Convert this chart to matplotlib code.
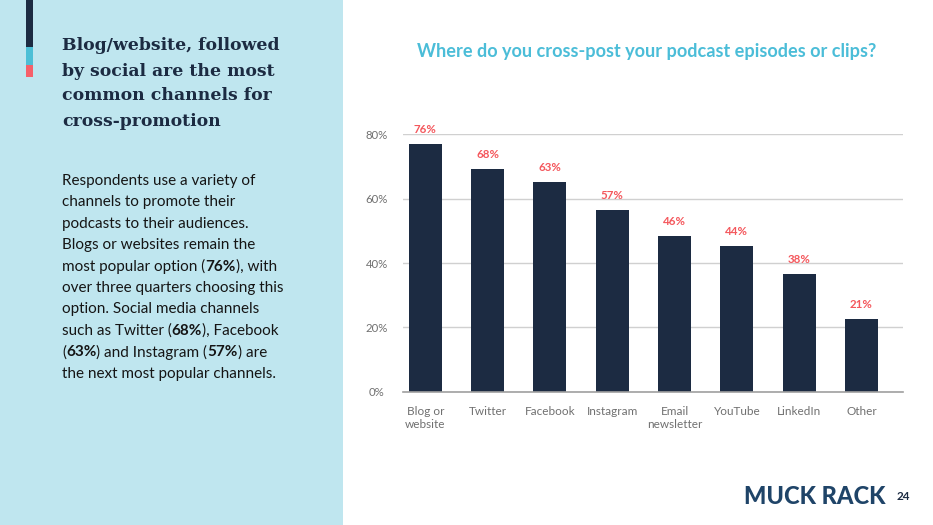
import matplotlib
matplotlib.use("Agg")
import matplotlib.pyplot as plt
from matplotlib.patches import Rectangle

# ---- data ----
categories = ["Blog or\nwebsite", "Twitter", "Facebook", "Instagram",
              "Email\nnewsletter", "YouTube", "LinkedIn", "Other"]
bar_heights = [77.0, 69.2, 65.2, 56.5, 48.4, 45.3, 36.6, 22.6]
value_labels = ["76%", "68%", "63%", "57%", "46%", "44%", "38%", "21%"]
y_ticks = [0, 20, 40, 60, 80]
y_tick_labels = ["0%", "20%", "40%", "60%", "80%"]

title_left = "Blog/website, followed\nby social are the most\ncommon channels for\ncross-promotion"
body_lines = [
    [("Respondents use a variety of", False)],
    [("channels to promote their", False)],
    [("podcasts to their audiences.", False)],
    [("Blogs or websites remain the", False)],
    [("most popular option (", False), ("76%", True), ("), with", False)],
    [("over three quarters choosing this", False)],
    [("option. Social media channels", False)],
    [("such as Twitter (", False), ("68%", True), ("), Facebook", False)],
    [("(", False), ("63%", True), (") and Instagram (", False), ("57%", True), (") are", False)],
    [("the next most popular channels.", False)],
]
chart_title = "Where do you cross-post your podcast episodes or clips?"

NAVY = "#1c2b42"
TEAL = "#4bbdd8"
CORAL = "#f4575c"
PANEL = "#bfe6ef"
GRAY = "#707070"

W, H = 933, 525
fig = plt.figure(figsize=(W / 100, H / 100), dpi=100)
fig.patch.set_facecolor("white")

def fx(px):
    return px / W

def fy(py):
    return 1 - py / H

# left panel
fig.patches.append(Rectangle((0, 0), fx(343), 1, transform=fig.transFigure,
                             facecolor=PANEL, edgecolor="none", zorder=0))
# accent stripes
fig.patches.append(Rectangle((fx(26), fy(47)), fx(7), 47 / H, transform=fig.transFigure,
                             facecolor=NAVY, edgecolor="none", zorder=1))
fig.patches.append(Rectangle((fx(26), fy(65)), fx(7), 18 / H, transform=fig.transFigure,
                             facecolor="#4cbfd6", edgecolor="none", zorder=1))
fig.patches.append(Rectangle((fx(26), fy(77)), fx(7), 12 / H, transform=fig.transFigure,
                             facecolor="#f6606a", edgecolor="none", zorder=1))

for i, line in enumerate(title_left.split("\n")):
    fig.text(fx(62), fy(46 + i * 25), line, ha="left", va="center", fontsize=12.4,
             family="DejaVu Serif", weight="bold", color=NAVY)

# body text with mixed bold
renderer = fig.canvas.get_renderer()
y0 = 181
for i, segs in enumerate(body_lines):
    x = fx(62)
    yy = fy(y0 + i * 21.4)
    for txt, bold in segs:
        t = fig.text(x, yy, txt, ha="left", va="center", fontsize=11.0,
                     family="Lato", weight="bold" if bold else "normal", color="#151515")
        bb = t.get_window_extent(renderer=renderer)
        x = bb.x1 / (W)

# chart title
fig.text(fx(647), fy(52), chart_title, ha="center", va="center", fontsize=13.1,
         family="Lato", weight="bold", color=TEAL)

# axes
ax = fig.add_axes([fx(403), fy(391.7), fx(903 - 403), (391.7 - 134.3) / H])
ax.set_facecolor("none")
x = list(range(len(categories)))
bars = ax.bar(x, bar_heights, width=0.53, color=NAVY, zorder=3)
for xi, h, lab in zip(x, bar_heights, value_labels):
    ax.annotate(lab, (xi, h), xytext=(0, 10.5), textcoords="offset points",
                ha="center", va="center", fontsize=8.3, family="Lato",
                weight="bold", color=CORAL, annotation_clip=False)
ax.set_xlim(-0.358, 7.666)
ax.set_ylim(0, 80)
ax.set_yticks(y_ticks)
ax.set_yticklabels(y_tick_labels)
ax.set_xticks(x)
ax.set_xticklabels(categories)
for lbl in ax.get_yticklabels():
    lbl.set_ha("center")
    lbl.set_fontsize(8.2)
    lbl.set_family("Lato")
    lbl.set_color(GRAY)
for lbl in ax.get_xticklabels():
    lbl.set_fontsize(8.5)
    lbl.set_family("Lato")
    lbl.set_color(GRAY)
    lbl.set_linespacing(1.15)
ax.tick_params(axis="y", length=0, pad=19)
ax.tick_params(axis="x", length=0, pad=10.5)
ax.grid(axis="y", color="#d0d0d0", linewidth=1, zorder=0)
for s in ["top", "right", "left"]:
    ax.spines[s].set_visible(False)
ax.spines["bottom"].set_color("#a0a0a0")
ax.spines["bottom"].set_linewidth(1.2)
ax.spines["bottom"].set_zorder(4)

# footer
fig.text(fx(885), fy(496), "MUCK RACK", ha="right", va="center", fontsize=17,
         family="Lato", weight="black", color="#1f4468")
fig.text(fx(897), fy(496), "24", ha="left", va="center", fontsize=8.5,
         family="Lato", weight="bold", color=NAVY)

fig.savefig("out.png", dpi=100, facecolor=fig.get_facecolor())
